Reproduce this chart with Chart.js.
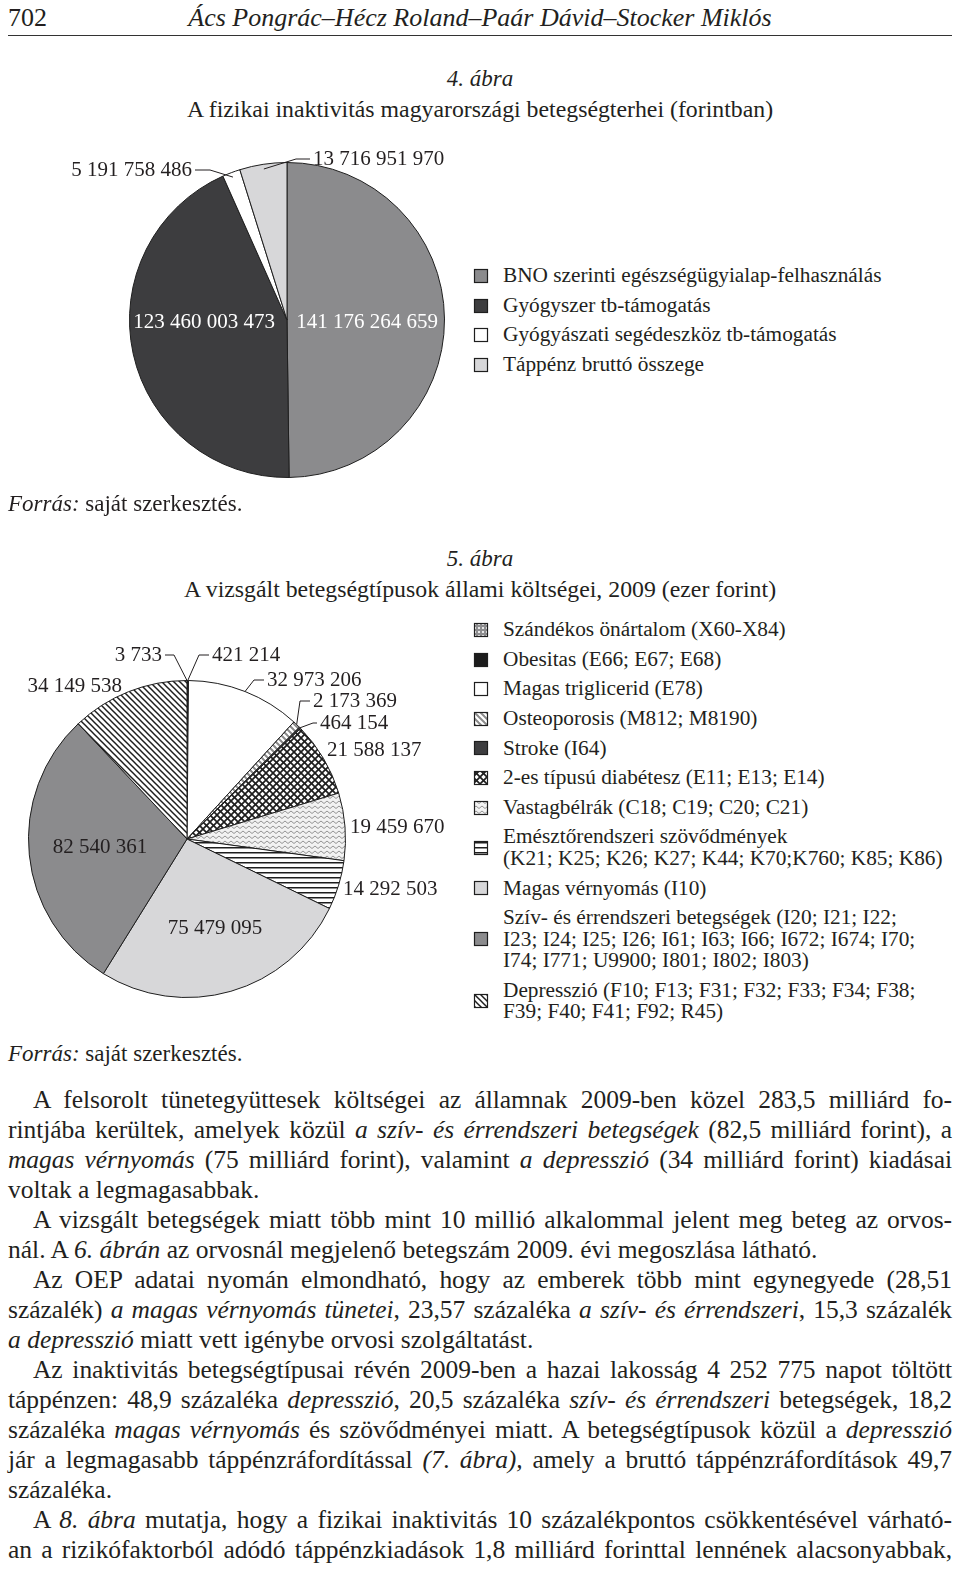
<!DOCTYPE html>
<html lang="hu">
<head>
<meta charset="UTF-8">
<title>A fizikai inaktivitás betegségterhei</title>
<script src="https://cdn.jsdelivr.net/npm/chart.js"></script>
<style>
    body { margin: 0; background: #fff; color: #231f20; font-family: "Liberation Serif", "Times New Roman", serif; }
    #page { position: relative; width: 960px; height: 1573px; overflow: hidden; }
    .t { position: absolute; white-space: nowrap; }
    .center { left: 0; width: 960px; text-align: center; }
    .rule { position: absolute; left: 8px; width: 944px; top: 35px; height: 0; border-top: 1.5px solid #333; }
    canvas.pie { position: absolute; left: 0; }
    .leg { position: absolute; left: 503px; font-size: 21.3px; line-height: 21.5px; white-space: pre; }
    .sw { position: absolute; left: 473px; }
    .ln { position: absolute; height: 30px; line-height: 30px; font-size: 25.5px; text-align: justify; text-align-last: justify; white-space: normal; overflow: visible; }
    .ln.last { text-align-last: left; }
</style>
</head>
<body>
<div id="page">
    <div class="t" style="left:8px; top:3px; font-size:26px; line-height:30px;">702</div>
    <div class="t center" style="top:3px; font-size:26px; line-height:30px;"><i>Ács Pongrác–Hécz Roland–Paár Dávid–Stocker Miklós</i></div>
    <div class="rule"></div>

    <div class="t center" style="top:65px; font-size:23px; line-height:28px;"><i>4. ábra</i></div>
    <div class="t center" style="top:95px; font-size:23.8px; line-height:28px;">A fizikai inaktivitás magyarországi betegségterhei (forintban)</div>
    <canvas id="pie1" class="pie" width="460" height="380" style="top:130px;"></canvas>
    <div class="t" style="left:8px; top:490px; font-size:23px; line-height:28px;"><i>Forrás:</i> saját szerkesztés.</div>

    <div class="t center" style="top:545px; font-size:23px; line-height:28px;"><i>5. ábra</i></div>
    <div class="t center" style="top:575px; font-size:23.8px; line-height:28px;">A vizsgált betegségtípusok állami költségei, 2009 (ezer forint)</div>
    <canvas id="pie2" class="pie" width="460" height="400" style="top:640px;"></canvas>
    <div class="t" style="left:8px; top:1040px; font-size:23px; line-height:28px;"><i>Forrás:</i> saját szerkesztés.</div>

    <div id="legends"></div>
    <div id="body"></div>
</div>

<script>
    // 4. ábra data
    const costCategories = [
        'BNO szerinti egészségügyialap-felhasználás',
        'Gyógyszer tb-támogatás',
        'Gyógyászati segédeszköz tb-támogatás',
        'Táppénz bruttó összege'
    ];
    const costValues = [141176264659, 123460003473, 5191758486, 13716951970];

    // 5. ábra data (ezer forint)
    const diseaseCategories = [
        'Szándékos önártalom (X60-X84)',
        'Obesitas (E66; E67; E68)',
        'Magas triglicerid (E78)',
        'Osteoporosis (M812; M8190)',
        'Stroke (I64)',
        '2-es típusú diabétesz (E11; E13; E14)',
        'Vastagbélrák (C18; C19; C20; C21)',
        'Emésztőrendszeri szövődmények\n(K21; K25; K26; K27; K44; K70;K760; K85; K86)',
        'Magas vérnyomás (I10)',
        'Szív- és érrendszeri betegségek (I20; I21; I22;\nI23; I24; I25; I26; I61; I63; I66; I672; I674; I70;\nI74; I771; U9900; I801; I802; I803)',
        'Depresszió (F10; F13; F31; F32; F33; F34; F38;\nF39; F40; F41; F92; R45)'
    ];
    const diseaseValues = [3733, 421214, 32973206, 2173369, 464154, 21588137, 19459670, 14292503, 75479095, 82540361, 34149538];

    // thousands separated by spaces, as in the book
    function fmt(v) {
        return String(v).replace(/\B(?=(\d{3})+(?!\d))/g, ' ');
    }

    // hatch patterns for the black & white print look
    function makePattern(w, h, draw) {
        const c = document.createElement('canvas');
        c.width = w; c.height = h;
        const g = c.getContext('2d');
        draw(g, w, h);
        return g.createPattern(c, 'repeat');
    }
    function diag(g, s, dir) {
        for (const k of [-s, 0, s]) {
            g.beginPath();
            if (dir === '\\') { g.moveTo(k - 1, -1); g.lineTo(k + s + 1, s + 1); }
            else { g.moveTo(k - 1, s + 1); g.lineTo(k + s + 1, -1); }
            g.stroke();
        }
    }
    const patGrid = makePattern(4, 4, (g) => {
        g.fillStyle = '#8e8e90'; g.fillRect(0, 0, 4, 4);
        g.fillStyle = '#e8e8e8'; g.fillRect(1, 1, 2, 2);
    });
    const patOsteo = makePattern(6, 6, (g, s) => {
        g.fillStyle = '#fff'; g.fillRect(0, 0, s, s);
        g.strokeStyle = '#8a8a8a'; g.lineWidth = 2; diag(g, s, '\\');
    });
    const patCross = makePattern(7, 7, (g, s) => {
        g.fillStyle = '#fff'; g.fillRect(0, 0, s, s);
        g.strokeStyle = '#1e1e1e'; g.lineWidth = 1.7;
        diag(g, s, '\\'); diag(g, s, '/');
    });
    const patZig = makePattern(6, 5, (g, w, h) => {
        g.fillStyle = '#f2f2f2'; g.fillRect(0, 0, w, h);
        g.strokeStyle = '#949494'; g.lineWidth = 1;
        g.beginPath(); g.moveTo(0, 3.5); g.lineTo(3, 1); g.lineTo(6, 3.5); g.stroke();
    });
    const patHoriz = makePattern(5, 5, (g, s) => {
        g.fillStyle = '#fff'; g.fillRect(0, 0, s, s);
        g.fillStyle = '#1e1e1e'; g.fillRect(0, 2, s, 1.5);
    });
    const patDepr = makePattern(6, 6, (g, s) => {
        g.fillStyle = '#fff'; g.fillRect(0, 0, s, s);
        g.strokeStyle = '#1e1e1e'; g.lineWidth = 1.5; diag(g, s, '\\');
    });

    const costFills = ['#8b8b8d', '#3d3d3f', '#ffffff', '#d7d7d9'];
    const diseaseFills = [patGrid, '#1c1c1c', '#ffffff', patOsteo, '#3d3d3f', patCross, patZig, patHoriz, '#d7d7d9', '#8b8b8d', patDepr];

    // label placement relative to the pie centre (text only; slices come from the data)
    const costLabelPlace = [
        { dx: 80, dy: 2, align: 'center', color: '#ffffff' },
        { dx: -83, dy: 2, align: 'center', color: '#ffffff' },
        { dx: -95, dy: -150, align: 'right', leader: { run: 15, r: 0.97 } },
        { dx: 26, dy: -161, align: 'left', leader: { run: 14, r: 0.97 } }
    ];
    const diseaseLabelPlace = [
        { dx: -25, dy: -184, align: 'right', leader: { run: 9, r: 1.0 } },
        { dx: 25, dy: -184, align: 'left', leader: { run: 10, r: 1.0 } },
        { dx: 80, dy: -159, align: 'left', leader: { run: 10, r: 1.0 } },
        { dx: 126, dy: -138, align: 'left', leader: { run: 10, r: 1.0 } },
        { dx: 133, dy: -116, align: 'left', leader: { run: 4, r: 1.0 } },
        { dx: 140, dy: -89, align: 'left' },
        { dx: 163, dy: -12, align: 'left' },
        { dx: 156, dy: 50, align: 'left' },
        { dx: 28, dy: 89, align: 'center' },
        { dx: -87, dy: 8, align: 'center' },
        { dx: -65, dy: -153, align: 'right' }
    ];

    const sliceLabels = {
        id: 'sliceLabels',
        afterDatasetsDraw(chart, args, opts) {
            const ctx = chart.ctx;
            const meta = chart.getDatasetMeta(0);
            const values = chart.data.datasets[0].data;
            ctx.save();
            ctx.font = '21px "Liberation Serif", serif';
            ctx.textBaseline = 'middle';
            ctx.strokeStyle = '#231f20';
            ctx.lineWidth = 1;
            meta.data.forEach((arc, i) => {
                const p = opts.place[i];
                const tx = arc.x + p.dx, ty = arc.y + p.dy;
                ctx.fillStyle = p.color || '#231f20';
                ctx.textAlign = p.align;
                ctx.fillText(fmt(values[i]), tx, ty);
                if (p.leader) {
                    const mid = (arc.startAngle + arc.endAngle) / 2;
                    const r = arc.outerRadius * p.leader.r;
                    const ax = arc.x + Math.cos(mid) * r;
                    const ay = arc.y + Math.sin(mid) * r;
                    const sx = p.align === 'right' ? tx + 3 : tx - 3;
                    const ex = p.align === 'right' ? sx + p.leader.run : sx - p.leader.run;
                    ctx.beginPath();
                    ctx.moveTo(sx, ty);
                    ctx.lineTo(ex, ty);
                    ctx.lineTo(ax, ay);
                    ctx.stroke();
                }
            });
            ctx.restore();
        }
    };

    function pieChart(id, labels, values, fills, place, padding) {
        return new Chart(document.getElementById(id), {
            type: 'pie',
            data: {
                labels: labels,
                datasets: [{
                    data: values,
                    backgroundColor: fills,
                    borderColor: '#1e1e1e',
                    borderWidth: 1
                }]
            },
            options: {
                responsive: false,
                animation: false,
                events: [],
                layout: { padding: padding },
                plugins: {
                    legend: { display: false },
                    tooltip: { enabled: false },
                    sliceLabels: { place: place }
                }
            },
            plugins: [sliceLabels]
        });
    }

    pieChart('pie1', costCategories, costValues, costFills, costLabelPlace,
        { left: 129, right: 15, top: 32, bottom: 32 });
    pieChart('pie2', diseaseCategories, diseaseValues, diseaseFills, diseaseLabelPlace,
        { left: 28, right: 114, top: 40, bottom: 42 });

    // legends (HTML, swatches painted with the same fills)
    function buildLegend(labels, fills, startY) {
        const host = document.getElementById('legends');
        let y = startY;
        labels.forEach((lab, i) => {
            const lines = lab.split('\n').length;
            const d = document.createElement('div');
            d.className = 'leg';
            d.textContent = lab;
            d.style.top = (y - 10.75) + 'px';
            host.appendChild(d);
            const mid = y + (lines - 1) * 21.5 / 2;
            const c = document.createElement('canvas');
            c.className = 'sw';
            c.width = 16; c.height = 16;
            c.style.top = (mid - 8) + 'px';
            const g = c.getContext('2d');
            g.fillStyle = fills[i];
            g.fillRect(1, 1, 14, 14);
            g.strokeStyle = '#1e1e1e';
            g.lineWidth = 1.2;
            g.strokeRect(1.5, 1.5, 13, 13);
            host.appendChild(c);
            y += (lines - 1) * 21.5 + 29.6;
        });
    }
    buildLegend(costCategories, costFills, 276);
    buildLegend(diseaseCategories, diseaseFills, 630);

    // running text of the page
    const bodyLines = [
        ['i', 'A felsorolt tünetegyüttesek költségei az államnak 2009-ben közel 283,5 milliárd fo-'],
        ['', 'rintjába kerültek, amelyek közül <i>a szív- és érrendszeri betegségek</i> (82,5 milliárd forint), a'],
        ['', '<i>magas vérnyomás</i> (75 milliárd forint), valamint <i>a depresszió</i> (34 milliárd forint) kiadásai'],
        ['l', 'voltak a legmagasabbak.'],
        ['i', 'A vizsgált betegségek miatt több mint 10 millió alkalommal jelent meg beteg az orvos-'],
        ['l', 'nál. A <i>6. ábrán</i> az orvosnál megjelenő betegszám 2009. évi megoszlása látható.'],
        ['i', 'Az OEP adatai nyomán elmondható, hogy az emberek több mint egynegyede (28,51'],
        ['', 'százalék) <i>a magas vérnyomás tünetei</i>, 23,57 százaléka <i>a szív- és érrendszeri</i>, 15,3 százalék'],
        ['l', '<i>a depresszió</i> miatt vett igénybe orvosi szolgáltatást.'],
        ['i', 'Az inaktivitás betegségtípusai révén 2009-ben a hazai lakosság 4 252 775 napot töltött'],
        ['', 'táppénzen: 48,9 százaléka <i>depresszió</i>, 20,5 százaléka <i>szív- és érrendszeri</i> betegségek, 18,2'],
        ['', 'százaléka <i>magas vérnyomás</i> és szövődményei miatt. A betegségtípusok közül a <i>depresszió</i>'],
        ['', 'jár a legmagasabb táppénzráfordítással <i>(7. ábra),</i> amely a bruttó táppénzráfordítások 49,7'],
        ['l', 'százaléka.'],
        ['i', 'A <i>8. ábra</i> mutatja, hogy a fizikai inaktivitás 10 százalékpontos csökkentésével várható-'],
        ['', 'an a rizikófaktorból adódó táppénzkiadások 1,8 milliárd forinttal lennének alacsonyabbak,']
    ];
    const bodyHost = document.getElementById('body');
    bodyLines.forEach(([kind, html], i) => {
        const el = document.createElement('div');
        el.className = 'ln' + (kind === 'l' ? ' last' : '');
        const left = kind === 'i' ? 33 : 8;
        el.style.left = left + 'px';
        el.style.width = (952 - left) + 'px';
        el.style.top = (1085 + i * 30) + 'px';
        // squeeze lines that are naturally too long for the measure
        const span = document.createElement('span');
        span.style.whiteSpace = 'nowrap';
        span.innerHTML = html;
        el.appendChild(span);
        bodyHost.appendChild(el);
        const w = span.getBoundingClientRect().width;
        const avail = 952 - left;
        if (w > avail - 4) {
            el.style.letterSpacing = ((avail - 4 - w) / span.textContent.length) + 'px';
        }
        el.innerHTML = html;
    });
</script>
</body>
</html>
